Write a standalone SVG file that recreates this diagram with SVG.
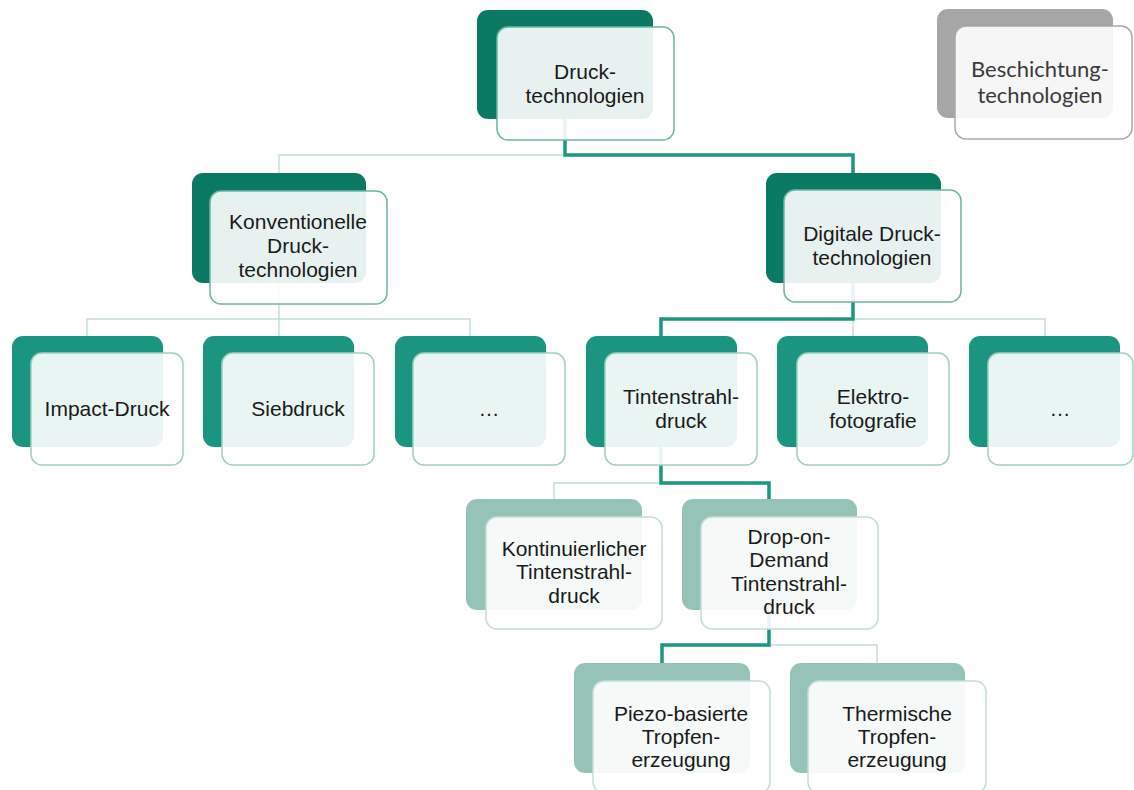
<svg xmlns="http://www.w3.org/2000/svg" width="1134" height="790" viewBox="0 0 1134 790">
<style>
.bg{fill:#ffffff}
.b1{fill:#0b7a65}
.b3{fill:#1a957f}
.b4{fill:#96c3b7}
.bg5{fill:#a6a6a6}
.f{fill:#ffffff;fill-opacity:0.9;stroke-width:1.5}
.s1{stroke:#6bb7a5}
.s3{stroke:#9fcfc2}
.s4{stroke:#c5ddd6}
.sg{stroke:#a8a8a8}
.t{font-family:"Liberation Sans",Arial,sans-serif;font-size:21px;fill:#1a1a1a;text-anchor:middle}
.tg{font-family:Lato,"Open Sans","Liberation Sans",sans-serif;font-size:22px;fill:#3a3a3a;text-anchor:middle}
.thin{fill:none;stroke:#c4e0d8;stroke-width:1.5}
.thick{fill:none;stroke:#1b9782;stroke-width:3.5}
</style>
<rect class="bg" x="0" y="0" width="1134" height="790"/>
<g id="connectors">
<path class="thin" d="M565,155 H279 V173"/>
<path class="thin" d="M279,283 V336 M279,319 H87 V336 M279,319 H470 V336"/>
<path class="thin" d="M853,319 H1045 V336 M853,319 V336"/>
<path class="thin" d="M661,483 H554 V499"/>
<path class="thin" d="M769,645 H877 V663"/>
<path class="thick" d="M565,119 V155 H853 V173"/>
<path class="thick" d="M853,283 V319 H661 V336"/>
<path class="thick" d="M661,447 V483 H769 V499"/>
<path class="thick" d="M769,610 V645 H662 V663"/>
</g>
<g id="n-druck">
<rect class="b1" x="477" y="10" width="176" height="109" rx="11"/>
<rect class="f s1" x="497" y="27" width="177" height="113" rx="11"/>
<text class="t" x="585" y="79">Druck-</text>
<text class="t" x="585" y="103">technologien</text>
</g>
<g id="n-besch">
<rect class="bg5" x="937" y="9" width="176" height="109" rx="11"/>
<rect class="f sg" x="955" y="26" width="177" height="113" rx="11"/>
<text class="tg" x="1040" y="77">Beschichtung-</text>
<text class="tg" x="1040" y="103">technologien</text>
</g>
<g id="n-konv">
<rect class="b1" x="192" y="173" width="174" height="110" rx="11"/>
<rect class="f s1" x="210" y="191" width="177" height="113" rx="11"/>
<text class="t" x="298" y="229">Konventionelle</text>
<text class="t" x="298" y="253">Druck-</text>
<text class="t" x="298" y="277">technologien</text>
</g>
<g id="n-digi">
<rect class="b1" x="766" y="173" width="175" height="110" rx="11"/>
<rect class="f s1" x="784" y="190" width="177" height="112" rx="11"/>
<text class="t" x="872" y="241">Digitale Druck-</text>
<text class="t" x="872" y="265">technologien</text>
</g>
<g id="n-impact">
<rect class="b3" x="12" y="336" width="151" height="111" rx="11"/>
<rect class="f s3" x="31" y="353" width="152" height="112" rx="11"/>
<text class="t" x="107" y="416">Impact-Druck</text>
</g>
<g id="n-sieb">
<rect class="b3" x="203" y="336" width="151" height="111" rx="11"/>
<rect class="f s3" x="222" y="353" width="152" height="112" rx="11"/>
<text class="t" x="298" y="416">Siebdruck</text>
</g>
<g id="n-etc1">
<rect class="b3" x="395" y="336" width="151" height="111" rx="11"/>
<rect class="f s3" x="413" y="353" width="152" height="112" rx="11"/>
<text class="t" x="489" y="416">…</text>
</g>
<g id="n-tinten">
<rect class="b3" x="586" y="336" width="151" height="111" rx="11"/>
<rect class="f s3" x="605" y="353" width="152" height="112" rx="11"/>
<text class="t" x="681" y="404">Tintenstrahl-</text>
<text class="t" x="681" y="428">druck</text>
</g>
<g id="n-elektro">
<rect class="b3" x="777" y="336" width="151" height="111" rx="11"/>
<rect class="f s3" x="797" y="353" width="152" height="112" rx="11"/>
<text class="t" x="873" y="404">Elektro-</text>
<text class="t" x="873" y="428">fotografie</text>
</g>
<g id="n-etc2">
<rect class="b3" x="969" y="336" width="151" height="111" rx="11"/>
<rect class="f s3" x="988" y="353" width="145" height="112" rx="11"/>
<text class="t" x="1060" y="416">…</text>
</g>
<g id="n-kont">
<rect class="b4" x="466" y="499" width="176" height="111" rx="11"/>
<rect class="f s4" x="486" y="517" width="176" height="112" rx="11"/>
<text class="t" x="574" y="556">Kontinuierlicher</text>
<text class="t" x="574" y="579">Tintenstrahl-</text>
<text class="t" x="574" y="603">druck</text>
</g>
<g id="n-dod">
<rect class="b4" x="682" y="499" width="175" height="111" rx="11"/>
<rect class="f s4" x="701" y="517" width="177" height="112" rx="11"/>
<text class="t" x="789" y="544">Drop-on-</text>
<text class="t" x="789" y="567">Demand</text>
<text class="t" x="789" y="591">Tintenstrahl-</text>
<text class="t" x="789" y="614">druck</text>
</g>
<g id="n-piezo">
<rect class="b4" x="574" y="663" width="176" height="110" rx="11"/>
<rect class="f s4" x="593" y="681" width="177" height="112" rx="11"/>
<text class="t" x="681" y="721">Piezo-basierte</text>
<text class="t" x="681" y="744">Tropfen-</text>
<text class="t" x="681" y="767">erzeugung</text>
</g>
<g id="n-therm">
<rect class="b4" x="790" y="663" width="175" height="110" rx="11"/>
<rect class="f s4" x="808" y="681" width="178" height="112" rx="11"/>
<text class="t" x="897" y="721">Thermische</text>
<text class="t" x="897" y="744">Tropfen-</text>
<text class="t" x="897" y="767">erzeugung</text>
</g>
</svg>
